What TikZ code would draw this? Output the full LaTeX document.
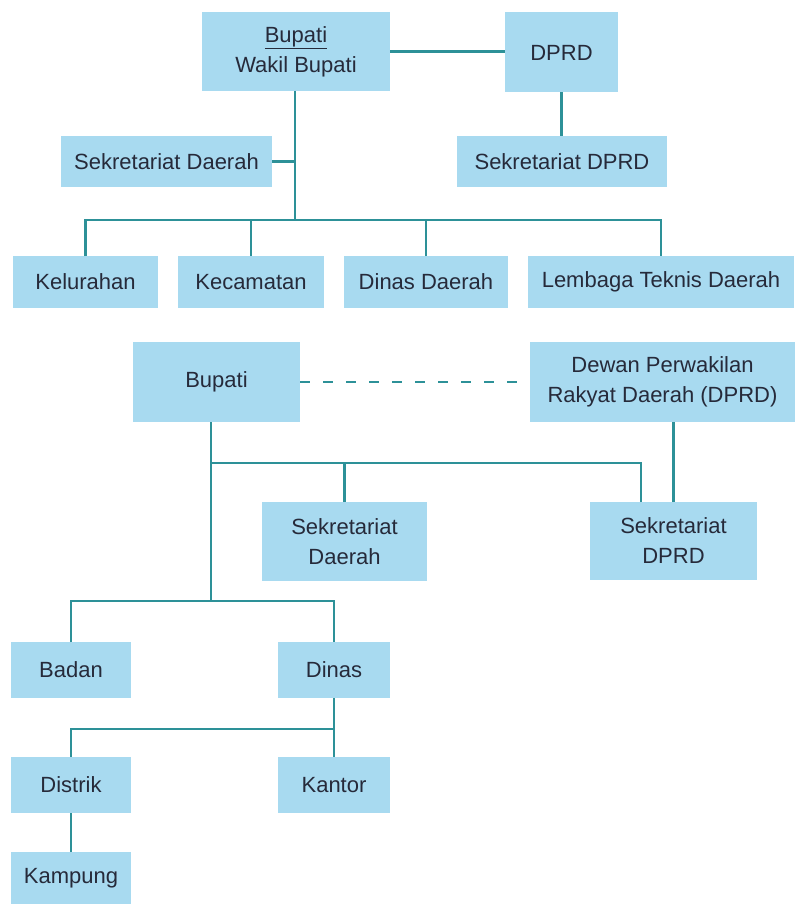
\documentclass[tikz,border=0pt]{standalone}
\usepackage{fontspec}
\setmainfont{Liberation Sans}
\definecolor{boxfill}{RGB}{168,218,240}
\definecolor{linecol}{RGB}{45,145,152}
\definecolor{txtcol}{RGB}{38,42,58}
\begin{document}
\begin{tikzpicture}[x=1pt,y=-1pt,
  box/.style={fill=boxfill,draw=none,inner sep=0pt,outer sep=0pt,align=center,
    text=txtcol,font=\fontsize{22}{30}\selectfont},
  conn/.style={draw=linecol,line width=2.6pt}]
\useasboundingbox (0,0) rectangle (795,904);
% ---- top chart ----
\node[box,minimum width=188,minimum height=79] (bw) at (296,51.5) {\underline{Bupati}\\Wakil Bupati};
\node[box,minimum width=113,minimum height=80] (dprda) at (561.5,52.5) {DPRD};
\node[box,minimum width=210,minimum height=51] (sdprda) at (562,161.5) {Sekretariat DPRD};
\node[box,minimum width=211,minimum height=51] (sda) at (166.5,161.5) {Sekretariat Daerah};
\node[box,minimum width=145,minimum height=52] (kel) at (85.5,282) {Kelurahan};
\node[box,minimum width=146,minimum height=52] (kec) at (251,282) {Kecamatan};
\node[box,minimum width=164,minimum height=52] (dd) at (426,282) {Dinas Daerah};
\node[box,minimum width=266,minimum height=52] (ltd) at (661,282) {Lembaga Teknis Daerah};
\coordinate (j1) at (295,220);
\draw[conn] (bw.south -| j1) -- (j1);
\draw[conn] (kel.north) |- (j1) -| (ltd.north);
\draw[conn] (kec.north) -- (kec.north |- j1);
\draw[conn] (dd.north) -- (dd.north |- j1);
\draw[conn] (sda.east) -- (sda.east -| j1);
\draw[conn] (bw.east) -- (dprda.west |- bw.east);
\draw[conn] (dprda.south) -- (dprda.south |- sdprda.north);
% ---- bottom chart ----
\node[box,minimum width=167,minimum height=80] (bup) at (216.5,382) {Bupati};
\node[box,minimum width=265,minimum height=80] (dewan) at (662.5,382) {Dewan Perwakilan\\Rakyat Daerah (DPRD)};
\node[box,minimum width=165,minimum height=79] (sdb) at (344.5,541.5) {Sekretariat\\Daerah};
\node[box,minimum width=167,minimum height=78] (sdprdb) at (673.5,541) {Sekretariat\\DPRD};
\node[box,minimum width=120,minimum height=56] (badan) at (71,670) {Badan};
\node[box,minimum width=112,minimum height=56] (dinas) at (334,670) {Dinas};
\node[box,minimum width=120,minimum height=56] (distrik) at (71,785) {Distrik};
\node[box,minimum width=112,minimum height=56] (kantor) at (334,785) {Kantor};
\node[box,minimum width=120,minimum height=52] (kampung) at (71,878) {Kampung};
\coordinate (j2) at (211,463);
\coordinate (j3) at (211,601);
\coordinate (j4) at (641,463);
\coordinate (j5) at (334,729);
\draw[conn,dash pattern=on 10pt off 13pt] (bup.east) -- (dewan.west);
\draw[conn] (bup.south -| j2) -- (j3);
\draw[conn] (j2) -- (j4) -- (j4 |- sdprdb.north);
\draw[conn] (sdb.north) -- (sdb.north |- j2);
\draw[conn] (sdprdb.north) -- (sdprdb.north |- dewan.south);
\draw[conn] (badan.north) |- (j3) -| (dinas.north);
\draw[conn] (dinas.south) -- (kantor.north);
\draw[conn] (j5) -| (distrik.north);
\draw[conn] (distrik.south) -- (kampung.north);
\end{tikzpicture}
\end{document}
